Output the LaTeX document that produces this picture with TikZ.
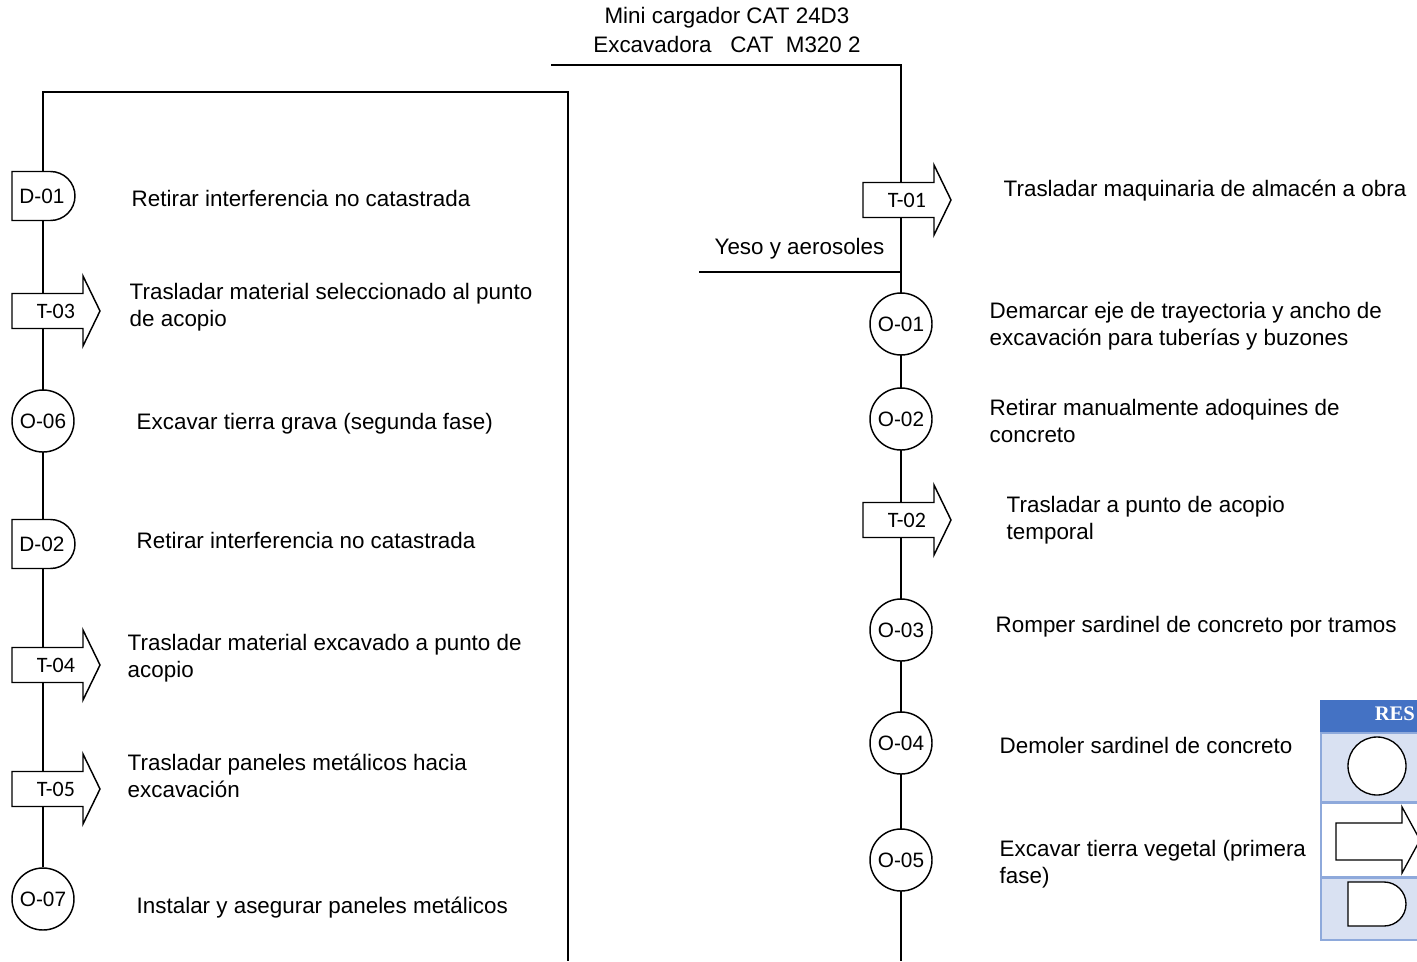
\documentclass[tikz,border=0pt]{standalone}
\usepackage{fontspec}
\setmainfont{Liberation Sans}
\newfontfamily\lblfont{Carlito}
\newfontfamily\legfont{Liberation Serif}
\definecolor{legblue}{HTML}{4472C4}
\definecolor{leglight}{HTML}{D9E1F2}
\definecolor{legline}{HTML}{8EA9DB}
\tikzset{
  dpic/.pic={\draw[fill=white] (-31,-24.5) -- (7.5,-24.5) arc[start angle=90,end angle=-90,radius=18.375pt] -- (-31,24.5) -- cycle;},
  tpic/.pic={\draw[fill=white] (0,-17.5) -- (71,-17.5) -- (71,-35) -- (88,0) -- (71,35) -- (71,17.5) -- (0,17.5) -- cycle;},
  txt/.style={anchor=west,inner sep=0pt,align=left,yshift=-2pt,font=\fontsize{16.8}{20.25}\selectfont},
  ctxt/.style={inner sep=0pt,align=center,yshift=-2pt,font=\fontsize{16.8}{20.25}\selectfont},
  opnode/.style={circle,draw,fill=white,minimum size=46.5pt,inner sep=0pt,font=\fontsize{15.6}{18}\selectfont},
  dlabel/.style={inner sep=0pt,font=\fontsize{15.6}{18}\selectfont},
  tlabel/.style={inner sep=0pt,font=\lblfont\fontsize{16.5}{18}\selectfont},
}
\begin{document}
\begin{tikzpicture}[x=0.75pt,y=-0.75pt,line width=1.1pt]
\useasboundingbox (0,0) rectangle (1417,961);
\clip (0,0) rectangle (1417,961);

% frame coordinates
\coordinate (lTop) at (43,92);
\coordinate (lCorner) at (568,92);
\coordinate (lBottom) at (568,961);
\coordinate (rStart) at (551,65);
\coordinate (rTop) at (901,65);
\coordinate (rBottom) at (901,961);
\coordinate (yStart) at (699,272);
\coordinate (yEnd) at (901,272);

% symbol anchor coordinates
\coordinate (d1) at (43,196);
\coordinate (d2) at (43,544);

% connector lines
\node[opnode] (o7) at (43,899) {O-07};
\draw (o7.north) -- (lTop) -- (lCorner) -- (lBottom);
\draw (rStart) -- (rTop) -- (rBottom);
\draw (yStart) -- (yEnd);

% left column symbols
\pic at (d1) {dpic};
\node[dlabel] (d1l) at (42,196) {D-01};
\pic at (12,311) {tpic};
\node[tlabel] (t3l) at (56,311) {T-03};
\node[opnode] (o6) at (43,421) {O-06};
\pic at (d2) {dpic};
\node[dlabel] (d2l) at (42,544) {D-02};
\pic at (12,665) {tpic};
\node[tlabel] (t4l) at (56,665) {T-04};
\pic at (12,789) {tpic};
\node[tlabel] (t5l) at (56,789) {T-05};

% right column symbols
\pic at (863,200) {tpic};
\node[tlabel] (t1l) at (907,200) {T-01};
\node[opnode] (o1) at (901,324) {O-01};
\node[opnode] (o2) at (901,419) {O-02};
\pic at (863,520) {tpic};
\node[tlabel] (t2l) at (907,520) {T-02};
\node[opnode] (o3) at (901,630) {O-03};
\node[opnode] (o4) at (901,743) {O-04};
\node[opnode] (o5) at (901,860) {O-05};

% top texts
\node[ctxt] (m1) at (727,15) {Mini cargador CAT 24D3};
\node[ctxt] (m2) at (727,42) {Excavadora\ \ \ CAT\ \ M320 2};
\node[ctxt] (yeso) at (799.5,246) {Yeso y aerosoles};

% left texts
\node[txt] (L1) at (131,196) {Retirar interferencia no catastrada};
\node[txt] (L2) at (129,304.5) {Trasladar material seleccionado al punto\\de acopio};
\node[txt] (L3) at (136,421) {Excavar tierra grava (segunda fase)};
\node[txt] (L4) at (136,538) {Retirar interferencia no catastrada};
\node[txt] (L5) at (127,656) {Trasladar material excavado a punto de\\acopio};
\node[txt] (L6) at (127,773.5) {Trasladar paneles metálicos hacia\\excavación};
\node[txt] (L7) at (136,905) {Instalar y asegurar paneles metálicos};

% right texts
\node[txt] (R1) at (1003,188) {Trasladar maquinaria de almacén a obra};
\node[txt] (R2) at (989,323.5) {Demarcar eje de trayectoria y ancho de\\excavación para tuberías y buzones};
\node[txt] (R3) at (989,418.5) {Retirar manualmente adoquines de\\concreto};
\node[txt] (R4) at (1006,517.5) {Trasladar a punto de acopio\\temporal};
\node[txt] (R5) at (995,624) {Romper sardinel de concreto por tramos};
\node[txt] (R6) at (999,743) {Demoler sardinel de concreto};
\node[txt] (R7) at (999,861.5) {Excavar tierra vegetal (primera\\fase)};

% legend
\fill[legblue] (1320,700) rectangle (1420,733);
\node[anchor=west,inner sep=0pt,text=white,font=\legfont\bfseries\fontsize{15.5}{18}\selectfont] (legh) at (1374,714) {RES};
\draw[legline,fill=leglight,line width=1.2pt] (1321,733) rectangle (1420,802);
\draw[legline,fill=white,line width=1.2pt] (1321,803) rectangle (1420,877);
\draw[legline,fill=leglight,line width=1.2pt] (1321,878) rectangle (1420,940);
\node[circle,draw,fill=white,line width=1pt,minimum size=43.5pt,inner sep=0pt] (legc) at (1377,766) {};
\draw[fill=white,line width=1pt] (1336,823) -- (1402,823) -- (1402,807) -- (1420,840) -- (1402,873) -- (1402,860) -- (1336,860) -- cycle;
\draw[fill=white,line width=1pt] (1348,882) -- (1384,882) arc[start angle=90,end angle=-90,radius=16.5pt] -- (1348,926) -- cycle;
\end{tikzpicture}
\end{document}
